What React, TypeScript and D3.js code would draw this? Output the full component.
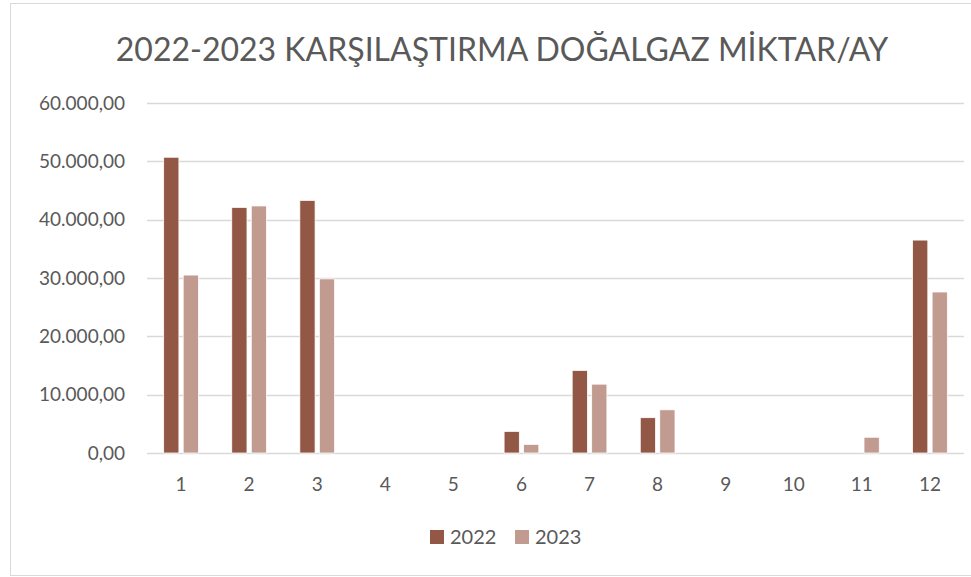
import React, { useEffect, useRef } from "react";
import * as d3 from "d3";

const months = ["1", "2", "3", "4", "5", "6", "7", "8", "9", "10", "11", "12"];
const series = ["2022", "2023"];
const values2022 = [50700, 42100, 43300, 0, 0, 3700, 14150, 6050, 0, 0, 0, 36500];
const values2023 = [30500, 42350, 29850, 0, 0, 1480, 11800, 7400, 0, 0, 2700, 27600];
const yTicks = [0, 10000, 20000, 30000, 40000, 50000, 60000];
const colors = ["#935845", "#c29b90"];

const FONT = "Lato, 'Open Sans', sans-serif";

const fmt = (v: number) => {
  const s = d3.format(",.2f")(v);
  return s.replace(/,/g, "#").replace(/\./g, ",").replace(/#/g, ".");
};

const App = () => {
  const svgRef = useRef<SVGSVGElement>(null);

  useEffect(() => {
    const W = 971;
    const H = 577;
    const margin = { top: 103, right: 7, bottom: 124, left: 147 };
    const width = W - margin.left - margin.right;
    const height = H - margin.top - margin.bottom;

    const root = d3.select(svgRef.current);
    root.selectAll("*").remove();
    root.attr("width", W).attr("height", H);

    // frame
    root
      .append("rect")
      .attr("x", 10.5)
      .attr("y", 3.5)
      .attr("width", W)
      .attr("height", 572)
      .attr("fill", "#fff")
      .attr("stroke", "#d9d9d9");

    root
      .append("text")
      .attr("x", 502)
      .attr("y", 61)
      .attr("text-anchor", "middle")
      .attr("font-family", FONT)
      .attr("font-size", 32)
      .attr("fill", "#595959")
      .text("2022-2023 KARŞILAŞTIRMA DOĞALGAZ MİKTAR/AY");

    const g = root.append("g").attr("transform", `translate(${margin.left},${margin.top})`);

    const x = d3.scaleBand().domain(months).range([0, width]).paddingInner(0.49).paddingOuter(0.245);
    const xs = d3.scaleBand().domain(series).range([0, x.bandwidth()]).paddingInner(0.22);
    const y = d3.scaleLinear().domain([0, 60000]).range([height, 0]);

    // gridlines
    g.selectAll(".grid")
      .data(yTicks)
      .enter()
      .append("line")
      .attr("x1", 0)
      .attr("x2", width)
      .attr("y1", (d) => Math.round(y(d)) + 0.5)
      .attr("y2", (d) => Math.round(y(d)) + 0.5)
      .attr("stroke", "#d9d9d9")
      .attr("stroke-width", 1.5);

    // y labels
    g.selectAll(".ylab")
      .data(yTicks)
      .enter()
      .append("text")
      .attr("x", -22)
      .attr("y", (d) => y(d))
      .attr("dy", "0.35em")
      .attr("text-anchor", "end")
      .attr("font-family", FONT)
      .attr("font-size", 19)
      .attr("fill", "#595959")
      .text((d) => fmt(d));

    const rows = months.map((m, i) => ({ m, vals: [values2022[i], values2023[i]] }));

    const groups = g
      .selectAll(".grp")
      .data(rows)
      .enter()
      .append("g")
      .attr("transform", (d) => `translate(${x(d.m)},0)`);

    groups
      .selectAll("rect")
      .data((d) => d.vals.map((v, j) => ({ s: series[j], v, j })))
      .enter()
      .filter((d) => d.v > 0)
      .append("rect")
      .attr("x", (d) => xs(d.s)!)
      .attr("width", xs.bandwidth())
      .attr("y", (d) => y(d.v))
      .attr("height", (d) => height - y(d.v))
      .attr("fill", (d) => colors[d.j])
      .attr("stroke", "#fff")
      .attr("stroke-width", 0.75);

    // x labels
    g.selectAll(".xlab")
      .data(months)
      .enter()
      .append("text")
      .attr("x", (d) => x(d)! + x.bandwidth() / 2)
      .attr("y", height + 38)
      .attr("text-anchor", "middle")
      .attr("font-family", FONT)
      .attr("font-size", 19)
      .attr("fill", "#595959")
      .text((d) => d);

    // legend
    const legend = root.append("g").attr("transform", "translate(430,530)");
    const items = legend
      .selectAll("g")
      .data(series)
      .enter()
      .append("g")
      .attr("transform", (d, i) => `translate(${i * 85},0)`);
    items
      .append("rect")
      .attr("width", 14)
      .attr("height", 14)
      .attr("fill", (d, i) => colors[i]);
    items
      .append("text")
      .attr("x", 20)
      .attr("y", 7)
      .attr("dy", "0.36em")
      .attr("font-family", FONT)
      .attr("font-size", 20)
      .attr("fill", "#595959")
      .text((d) => d);
  }, []);

  return <svg ref={svgRef} style={{ position: "absolute", left: 0, top: 0 }}></svg>;
};

export default App;
